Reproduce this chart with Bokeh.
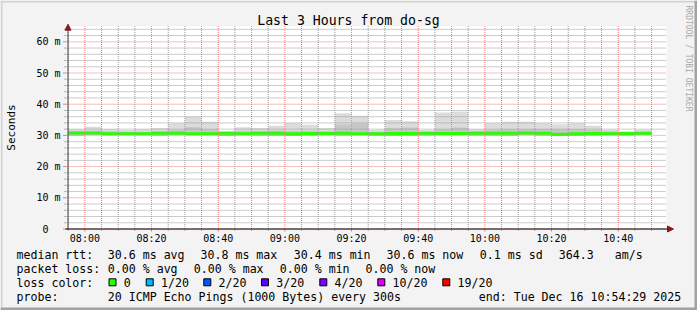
import math
from bokeh.plotting import figure
from bokeh.models import Range1d, ColumnDataSource, Arrow, NormalHead
from bokeh.core.properties import value
from bokeh.embed import file_html
from bokeh.resources import INLINE

# ---------------- data ----------------
block_end = ["08:00", "08:05", "08:10", "08:15", "08:20", "08:25", "08:30", "08:35", "08:40", "08:45",
             "08:50", "08:55", "09:00", "09:05", "09:10", "09:15", "09:20", "09:25", "09:30", "09:35",
             "09:40", "09:45", "09:50", "09:55", "10:00", "10:05", "10:10", "10:15", "10:20", "10:25",
             "10:30", "10:35", "10:40", "10:45", "10:50"]
smoke_max = [32.0, 32.8, 32.0, 31.7, 32.0, 32.4, 33.9, 36.0, 34.4, 31.4,
             32.6, 32.4, 33.1, 33.9, 33.4, 32.4, 37.1, 36.3, 31.8, 34.9,
             34.5, 31.7, 37.3, 37.7, 32.0, 33.9, 34.4, 34.4, 33.9, 33.6,
             33.9, 33.1, 31.8, 31.3, 31.8]
smoke_hi = [31.3, 31.5, 31.3, 31.2, 31.2, 31.3, 31.8, 32.6, 32.0, 31.0,
            31.4, 31.3, 31.6, 31.4, 31.5, 31.3, 33.5, 33.8, 31.2, 32.3,
            32.5, 31.0, 32.0, 32.5, 31.3, 31.8, 32.0, 32.0, 32.0, 32.0,
            32.0, 31.7, 31.3, 31.0, 31.2]
smoke_min = [30.0, 30.1, 30.2, 30.1, 30.2, 30.0, 30.2, 30.1, 30.1, 29.8,
             30.1, 30.0, 29.9, 29.8, 30.0, 30.1, 30.0, 30.1, 30.0, 29.8,
             29.9, 30.0, 30.2, 30.1, 30.0, 30.0, 29.9, 30.1, 30.0, 29.8,
             29.9, 30.0, 30.1, 30.0, 30.1]
median = [30.8, 30.8, 30.5, 30.5, 30.5, 30.7, 30.7, 30.5, 30.5, 30.7,
          30.5, 30.7, 30.7, 30.5, 30.6, 30.6, 30.7, 30.5, 30.5, 30.6,
          30.6, 30.7, 30.6, 30.6, 30.7, 30.7, 30.7, 30.8, 30.7, 30.4,
          30.5, 30.6, 30.5, 30.6, 30.7]
step_min = 5
x_tick_labels = ["08:00", "08:20", "08:40", "09:00", "09:20", "09:40", "10:00", "10:20", "10:40"]
y_tick_values = [0, 10, 20, 30, 40, 50, 60]
y_tick_labels = ["0", "10 m", "20 m", "30 m", "40 m", "50 m", "60 m"]
y_max = 65
start_time = "07:54:29"
end_time = "10:54:29"
loss_labels = ["0", "1/20", "2/20", "3/20", "4/20", "10/20", "19/20"]
loss_colors = ["#26ff00", "#00b8ff", "#0059ff", "#5e00ff", "#7e00ff", "#dd00ff", "#ff0000"]

def to_min(s):
    parts = [int(v) for v in s.split(":")]
    m = parts[0] * 60 + parts[1]
    if len(parts) > 2:
        m += parts[2] / 60.0
    return m

W, H = 697, 310
FL, FW = 66, 600          # plot area left edge and width (px)
FB, PPV = 228.5, 3.12     # zero line (px) and pixels per ms
t0, t1 = to_min(start_time), to_min(end_time)
PPM = FW / (t1 - t0)

FONT = "DejaVu Sans Mono"

p = figure(width=W, height=H, min_border=0, x_range=Range1d(0, W), y_range=Range1d(H, 0),
           output_backend="svg", toolbar_location=None)
p.extra_x_ranges = {"time": Range1d(t0 - FL / PPM, t0 + (W - FL) / PPM)}
p.extra_y_ranges = {"val": Range1d((FB - H) / PPV, FB / PPV)}
p.axis.visible = False
p.grid.visible = False
p.outline_line_color = None
p.background_fill_color = "#f3f3f3"
p.border_fill_color = "#f3f3f3"

D = dict(x_range_name="time", y_range_name="val")

# canvas frame
p.quad(left=[0, 0], right=[W, 2], top=[0, 0], bottom=[2, H], fill_color="#d2d2d2", line_color=None)
p.quad(left=[W - 3, 0], right=[W, W], top=[0, H - 3], bottom=[H, H], fill_color="#a2a2a2", line_color=None)

# plot area
p.quad(left=[t0], right=[t1], bottom=[0], top=[y_max], fill_color="white", line_color=None, **D)

# smoke
ends = [to_min(t) for t in block_end]
src = ColumnDataSource(dict(left=[e - step_min for e in ends], right=ends,
                            smax=smoke_max, shi=smoke_hi, smin=smoke_min, med=median))
p.quad(left="left", right="right", bottom="smin", top="smax", source=src,
       fill_color="#dcdcdc", line_color=None, **D)
p.quad(left="left", right="right", bottom="smin", top="shi", source=src,
       fill_color="#c6c6c6", line_color=None, **D)
p.segment(x0="left", x1="right", y0="med", y1="med", source=src,
          line_color=loss_colors[0], line_width=3, **D)

# grid
xt = [to_min(t) for t in x_tick_labels]
first5 = math.ceil(t0 / 5) * 5
x_all5 = [first5 + 5 * i for i in range(int((t1 - first5) // 5) + 1)]
x_minor = [x for x in x_all5 if x not in xt]
y_minor = [v for v in range(2, y_max, 2) if v not in y_tick_values]
GRID_C, MGRID_C = "#9a9a9a", "#f07c7c"
p.segment(x0=x_minor, x1=x_minor, y0=[0] * len(x_minor), y1=[y_max] * len(x_minor),
          line_color=GRID_C, line_width=1, line_dash="1 1", **D)
p.segment(x0=[t0] * len(y_minor), x1=[t1] * len(y_minor), y0=y_minor, y1=y_minor,
          line_color=GRID_C, line_width=1, line_dash="1 1", **D)
p.segment(x0=xt, x1=xt, y0=[0] * len(xt), y1=[y_max] * len(xt),
          line_color=MGRID_C, line_width=1, line_dash="1 1", **D)
p.segment(x0=[t0] * len(y_tick_values), x1=[t1] * len(y_tick_values), y0=y_tick_values, y1=y_tick_values,
          line_color=MGRID_C, line_width=1, line_dash="1 1", **D)

# tick marks on the axes
p.segment(x0=x_minor, x1=x_minor, y0=[0] * len(x_minor), y1=[-2 / PPV] * len(x_minor),
          line_color="#b4b4b4", line_width=1, **D)
p.segment(x0=xt, x1=xt, y0=[0] * len(xt), y1=[-2.5 / PPV] * len(xt),
          line_color=MGRID_C, line_width=1, **D)
p.segment(x0=[t0 - 2.5 / PPM] * len(y_minor), x1=[t0] * len(y_minor), y0=y_minor, y1=y_minor,
          line_color="#b4b4b4", line_width=1, **D)
p.segment(x0=[t0 - 3.5 / PPM] * len(y_tick_values), x1=[t0] * len(y_tick_values),
          y0=y_tick_values, y1=y_tick_values, line_color=MGRID_C, line_width=1, **D)

# axes with arrows
head_kw = dict(size=6, fill_color="#8b1a1a", line_color="#8b1a1a")
p.add_layout(Arrow(end=NormalHead(**head_kw), x_start=t0 - 1 / PPM, y_start=0, x_end=t1 + 7 / PPM, y_end=0,
                   line_color="#000000", line_width=1, **D))
p.add_layout(Arrow(end=NormalHead(**head_kw), x_start=t0 + 1.5 / PPM, y_start=-1 / PPV,
                   x_end=t0 + 1.5 / PPM, y_end=y_max + 2 / PPV,
                   line_color="#404040", line_width=1, **D))

# axis tick labels
p.text(x=xt, y=[237.5] * len(xt), text=x_tick_labels, x_range_name="time",
       text_font=value(FONT), text_font_size="10px", text_align="center", text_baseline="middle",
       text_color="#000000")
p.text(x=[60] * len(y_tick_values), y=y_tick_values,
       text=[l if " " in l else l + "\u00a0\u00a0" for l in y_tick_labels], y_range_name="val",
       text_font=value(FONT), text_font_size="10px", text_align="right", text_baseline="middle",
       text_color="#000000")

def lab(text, px, py, size="11.6px", align="left", color="#000000", angle=0.0):
    p.text(x=[px], y=[py], text=[text], text_font=value(FONT), text_font_size=size,
           text_baseline="middle", text_align=align, text_color=color, angle=angle)

lab("Last 3 Hours from do-sg", 348, 19.5, size="13.2px", align="center")
lab("Seconds", 11, 127, size="11px", align="center", angle=math.pi / 2)
lab("RRDTOOL / TOBI OETIKER", 688, 58, size="8px", align="center", color="#a8a8a8", angle=-math.pi / 2)

y1, y2, y3, y4 = 254.3, 268.3, 282.3, 296.3
lab("median rtt:", 16, y1)
lab("30.6 ms avg", 107.3, y1)
lab("30.8 ms max", 200, y1)
lab("30.4 ms min", 293.3, y1)
lab("30.6 ms now", 386, y1)
lab("0.1 ms sd", 479.3, y1)
lab("364.3", 558.3, y1)
lab("am/s", 614.3, y1)

lab("packet loss:", 16, y2)
lab("0.00 % avg", 107.3, y2)
lab("0.00 % max", 193.3, y2)
lab("0.00 % min", 279.3, y2)
lab("0.00 % now", 365, y2)

lab("loss color:", 16, y3)
sq_x = [108.5, 145.7, 203.3, 261, 319.3, 377.3, 442.3]
p.quad(left=sq_x, right=[s + 7 for s in sq_x], top=[y3 - 4] * len(sq_x), bottom=[y3 + 3] * len(sq_x),
       fill_color=loss_colors, line_color="#000000", line_width=1)
for lbl, sx in zip(loss_labels, sq_x):
    lab(lbl, sx + 14.8, y3)

lab("probe:", 16, y4)
lab("20 ICMP Echo Pings (1000 Bytes) every 300s", 107.3, y4)
lab("end: Tue Dec 16 10:54:29 2025", 478.3, y4)

open("out.html", "w").write(file_html(p, INLINE))
